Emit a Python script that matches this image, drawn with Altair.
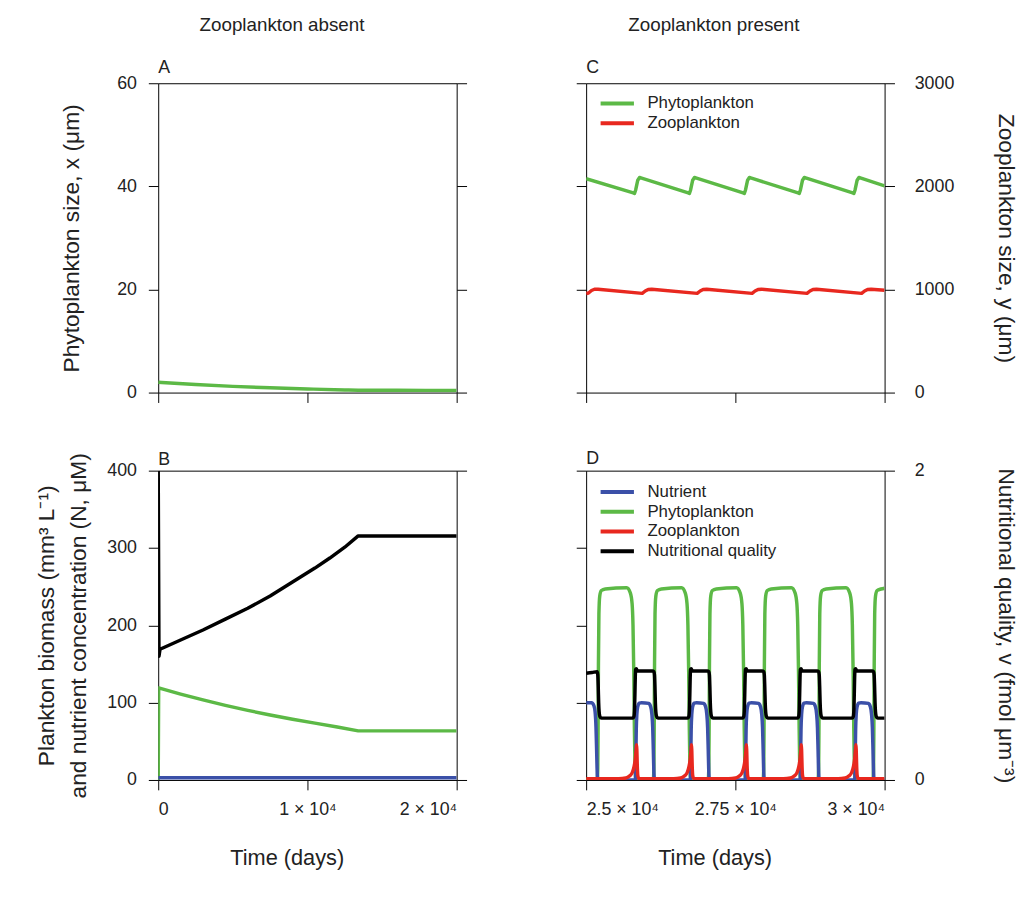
import altair as alt
import pandas as pd

FONT = "Liberation Sans"
TXT = "#222222"
GREEN = "#5cb946"
RED = "#e8281f"
BLUE = "#3b50a8"
BLACK = "#000000"
LW = 3.5

# ---------------- Panel A: phytoplankton size, zooplankton absent ----------------
a_t = [0, 2500, 5000, 7500, 10000, 12500, 13400, 16000, 20000]
a_phyto_size = [2.0, 1.55, 1.2, 0.92, 0.7, 0.52, 0.47, 0.44, 0.42]

# ---------------- Panel B: biomass / nutrient / quality, zooplankton absent -------
b_t_phyto = [0, 30, 1500, 3000, 4500, 6000, 7500, 9000, 10500, 12000, 13400, 20000]
b_phyto = [0, 119, 111, 103.5, 96.5, 90, 84, 78.5, 73.5, 68.5, 63.5, 63.5]
b_t_nut = [0, 20000]
b_nut = [3, 3]
b_t_qual = [0, 50, 120, 1500, 3000, 4500, 6000, 7500, 9000, 10500, 11500, 12500, 13400, 20000]
b_qual = [2.0, 0.80, 0.845, 0.905, 0.97, 1.04, 1.11, 1.19, 1.28, 1.37, 1.435, 1.505, 1.578, 1.578]

# ---------------- Panel C: sizes, zooplankton present ------------------------------
c_t_phyto = [25000, 25790, 25810, 25830, 25865, 25895, 25930,
             26710, 26730, 26750, 26785, 26815, 26850,
             27630, 27650, 27670, 27705, 27735, 27770,
             28550, 28570, 28590, 28625, 28655, 28690,
             29465, 29485, 29505, 29540, 29570, 29605, 30000]
c_phyto = [41.5, 38.72, 38.62, 39.3, 41.2, 41.72, 41.6,
           38.72, 38.62, 39.3, 41.2, 41.72, 41.6,
           38.72, 38.62, 39.3, 41.2, 41.72, 41.6,
           38.72, 38.62, 39.3, 41.2, 41.72, 41.6,
           38.72, 38.62, 39.3, 41.2, 41.72, 41.6, 40.1]
c_t_zoo = [25000, 25040, 25090, 25140, 25200,
           25940, 25990, 26040, 26100,
           26860, 26910, 26960, 27020,
           27780, 27830, 27880, 27940,
           28700, 28750, 28800, 28860,
           29615, 29665, 29715, 29775, 30000]
c_zoo = [960, 966, 990, 1002, 1003,
         962, 985, 1000, 1003,
         962, 985, 1000, 1003,
         962, 985, 1000, 1003,
         962, 985, 1000, 1003,
         962, 985, 1000, 1003, 993]

# ---------------- Panel D: biomass / nutrient / quality, zooplankton present -------
d_t_phyto = [25000, 25185, 25195, 25200, 25206, 25214, 25228, 25255, 25320,
             25680, 25740, 25770, 25785, 25798, 25808, 25818, 25830, 25850,
             26125, 26135, 26140, 26146, 26154, 26168, 26195, 26260,
             26600, 26660, 26690, 26705, 26718, 26728, 26738, 26750, 26770,
             27045, 27055, 27060, 27066, 27074, 27088, 27115, 27180,
             27520, 27580, 27610, 27625, 27638, 27648, 27658, 27670, 27690,
             27965, 27975, 27980, 27986, 27994, 28008, 28035, 28100,
             28440, 28500, 28530, 28545, 28558, 28568, 28578, 28590, 28610,
             28885, 28895, 28900, 28906, 28914, 28928, 28955, 29020,
             29355, 29415, 29445, 29460, 29473, 29483, 29493, 29505, 29525,
             29805, 29815, 29820, 29826, 29834, 29848, 29875, 29940, 30000]
d_phyto = [0, 0, 15, 60, 150, 215, 238, 245, 247,
           248.5, 242, 228, 200, 140, 70, 20, 3, 0,
           0, 15, 60, 150, 215, 238, 245, 247,
           248.5, 242, 228, 200, 140, 70, 20, 3, 0,
           0, 15, 60, 150, 215, 238, 245, 247,
           248.5, 242, 228, 200, 140, 70, 20, 3, 0,
           0, 15, 60, 150, 215, 238, 245, 247,
           248.5, 242, 228, 200, 140, 70, 20, 3, 0,
           0, 15, 60, 150, 215, 238, 245, 247,
           248.5, 242, 228, 200, 140, 70, 20, 3, 0,
           0, 15, 60, 150, 215, 238, 245, 247, 248]

d_t_nut = [25000, 25090, 25130, 25150, 25165, 25175, 25183, 25190, 25200,
           25825, 25833, 25840, 25850, 25865, 25890, 25930, 26050, 26080, 26100, 26115, 26125, 26133, 26140, 26150,
           26745, 26753, 26760, 26770, 26785, 26810, 26850, 26970, 27000, 27020, 27035, 27045, 27053, 27060, 27070,
           27665, 27673, 27680, 27690, 27705, 27730, 27770, 27890, 27920, 27940, 27955, 27965, 27973, 27980, 27990,
           28585, 28593, 28600, 28610, 28625, 28650, 28690, 28810, 28840, 28860, 28875, 28885, 28893, 28900, 28910,
           29500, 29508, 29515, 29525, 29540, 29565, 29605, 29730, 29760, 29780, 29795, 29805, 29813, 29820, 29830,
           30000]
d_nut = [100, 100, 96, 88, 68, 40, 15, 3, 0,
         0, 30, 65, 85, 95, 99.5, 100, 99, 95, 86, 68, 40, 15, 3, 0,
         0, 30, 65, 85, 95, 99.5, 100, 99, 95, 86, 68, 40, 15, 3, 0,
         0, 30, 65, 85, 95, 99.5, 100, 99, 95, 86, 68, 40, 15, 3, 0,
         0, 30, 65, 85, 95, 99.5, 100, 99, 95, 86, 68, 40, 15, 3, 0,
         0, 30, 65, 85, 95, 99.5, 100, 99, 95, 86, 68, 40, 15, 3, 0,
         0]

d_t_zoo = [25000,
           25545, 25665, 25725, 25775, 25805, 25825, 25837, 25845, 25850, 25857, 25865, 25880, 25905,
           26465, 26585, 26645, 26695, 26725, 26745, 26757, 26765, 26770, 26777, 26785, 26800, 26825,
           27385, 27505, 27565, 27615, 27645, 27665, 27677, 27685, 27690, 27697, 27705, 27720, 27745,
           28305, 28425, 28485, 28535, 28565, 28585, 28597, 28605, 28610, 28617, 28625, 28640, 28665,
           29220, 29340, 29400, 29450, 29480, 29500, 29512, 29520, 29525, 29532, 29540, 29555, 29580,
           30000]
d_zoo = [1.5,
         1.5, 2.5, 5, 10, 18, 28, 38, 45.5, 38, 18, 6, 2, 1.5,
         1.5, 2.5, 5, 10, 18, 28, 38, 45.5, 38, 18, 6, 2, 1.5,
         1.5, 2.5, 5, 10, 18, 28, 38, 45.5, 38, 18, 6, 2, 1.5,
         1.5, 2.5, 5, 10, 18, 28, 38, 45.5, 38, 18, 6, 2, 1.5,
         1.5, 2.5, 5, 10, 18, 28, 38, 45.5, 38, 18, 6, 2, 1.5,
         1.5]

d_t_qual = [25000, 25100, 25185, 25195, 25203, 25210, 25218, 25230, 25255,
            25780, 25800, 25810, 25817, 25823, 25830, 25840, 25860, 26110,
            26135, 26145, 26153, 26160, 26168, 26180, 26205,
            26700, 26720, 26730, 26737, 26743, 26750, 26760, 26780, 27030,
            27055, 27065, 27073, 27080, 27088, 27100, 27125,
            27620, 27640, 27650, 27657, 27663, 27670, 27680, 27700, 27950,
            27975, 27985, 27993, 28000, 28008, 28020, 28045,
            28540, 28560, 28570, 28577, 28583, 28590, 28600, 28620, 28870,
            28895, 28905, 28913, 28920, 28928, 28940, 28965,
            29455, 29475, 29485, 29492, 29498, 29505, 29515, 29535, 29790,
            29815, 29825, 29833, 29840, 29848, 29860, 29885, 30000]
d_qual = [0.69, 0.695, 0.70, 0.68, 0.60, 0.50, 0.44, 0.41, 0.40,
          0.40, 0.41, 0.45, 0.55, 0.66, 0.715, 0.72, 0.705, 0.705,
          0.70, 0.68, 0.60, 0.50, 0.44, 0.41, 0.40,
          0.40, 0.41, 0.45, 0.55, 0.66, 0.715, 0.72, 0.705, 0.705,
          0.70, 0.68, 0.60, 0.50, 0.44, 0.41, 0.40,
          0.40, 0.41, 0.45, 0.55, 0.66, 0.715, 0.72, 0.705, 0.705,
          0.70, 0.68, 0.60, 0.50, 0.44, 0.41, 0.40,
          0.40, 0.41, 0.45, 0.55, 0.66, 0.715, 0.72, 0.705, 0.705,
          0.70, 0.68, 0.60, 0.50, 0.44, 0.41, 0.40,
          0.40, 0.41, 0.45, 0.55, 0.66, 0.715, 0.72, 0.705, 0.705,
          0.70, 0.68, 0.60, 0.50, 0.44, 0.41, 0.40, 0.40]

# ---------------- axis tick values and labels ----------------
x_left_ticks = [0, 10000, 20000]
x_right_ticks = [25000, 27500, 30000]
size_ticks = [0, 20, 40, 60]
zoo_size_ticks = [0, 1000, 2000, 3000]
biomass_ticks = [0, 100, 200, 300, 400]
quality_ticks = [0, 1, 2]

W, H = 302, 313
X_LABEL_EXPR = "datum.value == 0 ? '0' : (datum.value / 10000) + ' × 10⁴'"

legend_c_names = ["Phytoplankton", "Zooplankton"]
legend_c_colors = [GREEN, RED]
legend_d_names = ["Nutrient", "Phytoplankton", "Zooplankton", "Nutritional quality"]
legend_d_colors = [BLUE, GREEN, RED, BLACK]


def frame(t, v, series):
    return pd.DataFrame({"t": t, "v": v, "series": series})


def xenc(domain, ticks, labels, title=None):
    ax = dict(values=ticks, orient="bottom", tickSize=10, labels=labels)
    if labels:
        ax.update(labelExpr=X_LABEL_EXPR, labelPadding=11)
    if title:
        ax.update(title=title, titlePadding=30, titleFontSize=22, titleX=130)
    else:
        ax.update(title=None)
    return alt.X("t:Q", scale=alt.Scale(domain=domain, nice=False, zero=False),
                 axis=alt.Axis(**ax))


def yleft(domain, ticks, labels, title=None, title_x=-76):
    ax = dict(values=ticks, orient="left", tickSize=10, labels=labels, labelPadding=12,
              format="d")
    if title is not None:
        ax.update(title=title, titleX=title_x)
    else:
        ax.update(title=None)
    return alt.Y("v:Q", scale=alt.Scale(domain=domain, nice=False), axis=alt.Axis(**ax))


def yright(domain, ticks, labels, title=None):
    ax = dict(values=ticks, orient="right", tickSize=10, labels=labels, labelPadding=20,
              format="d")
    if title is not None:
        ax.update(title=title, titleX=110, titleAngle=90)
    else:
        ax.update(title=None)
    return alt.Y("v:Q", scale=alt.Scale(domain=domain, nice=False), axis=alt.Axis(**ax))


def line(df, x, y, color_enc=None, color=None, interp="monotone"):
    enc = dict(x=x, y=y)
    if color_enc is not None:
        m = alt.Chart(df).mark_line(strokeWidth=LW, interpolate=interp, clip=True,
                                    strokeJoin="round")
        enc["color"] = color_enc
    else:
        m = alt.Chart(df).mark_line(strokeWidth=LW, interpolate=interp, clip=True,
                                    strokeJoin="round", color=color)
    return m.encode(**enc)


def panel_title(letter, offset=0):
    return alt.Title(letter, anchor="start", fontSize=18, font=FONT, fontWeight="normal",
                     color=TXT, offset=offset, frame="group")


def legend(names, colors, ly):
    return alt.Color("series:N",
                     scale=alt.Scale(domain=names, range=colors),
                     legend=alt.Legend(orient="none", legendX=23, legendY=ly, title=None,
                                       symbolType="M-2.7,0H2.7", symbolSize=156,
                                       symbolStrokeWidth=4, labelOffset=22,
                                       labelFontSize=17, labelFont=FONT, labelColor=TXT,
                                       rowPadding=2, padding=0, symbolFillColor="transparent"))


# ---- A ----
dfA = frame(a_t, a_phyto_size, "Phytoplankton")
xa = xenc([0, 20000], x_left_ticks, False)
A = alt.layer(
    line(dfA, xa, yleft([0, 60], size_ticks, True, "Phytoplankton size, x (μm)", -76),
         color=GREEN),
    alt.Chart(dfA).mark_line(opacity=0).encode(x=xa, y=yright([0, 3000], zoo_size_ticks, False)),
).resolve_scale(y="independent").properties(width=W, height=H, title=panel_title("A", -3))

# ---- B ----
xb = xenc([0, 20000], x_left_ticks, True, "Time (days)")
yb = yleft([0, 400], biomass_ticks, True,
           ["Plankton biomass (mm³ L⁻¹)", "and nutrient concentration (N, μM)"], -101)
B = alt.layer(
    alt.layer(
        line(frame(b_t_phyto, b_phyto, "Phytoplankton"), xb, yb, color=GREEN, interp="linear"),
        line(frame(b_t_nut, b_nut, "Nutrient"), xb, yb, color=BLUE, interp="linear"),
    ),
    line(frame(b_t_qual, b_qual, "Nutritional quality"), xb,
         yright([0, 2], quality_ticks, False), color=BLACK, interp="linear"),
).resolve_scale(y="independent").properties(width=W, height=H, title=panel_title("B", -17))

# ---- C ----
xc = xenc([25000, 30000], x_right_ticks, False)
colC = legend(legend_c_names, legend_c_colors, 12)
C = alt.layer(
    line(frame(c_t_phyto, c_phyto, "Phytoplankton"), xc,
         yleft([0, 60], size_ticks, False), color_enc=colC, interp="linear"),
    line(frame(c_t_zoo, c_zoo, "Zooplankton"), xc,
         yright([0, 3000], zoo_size_ticks, True, "Zooplankton size, y (μm)"),
         color_enc=colC, interp="linear"),
).resolve_scale(y="independent").properties(width=W, height=H, title=panel_title("C", -3))

# ---- D ----
xd = xenc([25000, 30000], x_right_ticks, True, "Time (days)")
yd = yleft([0, 400], biomass_ticks, False)
colD = legend(legend_d_names, legend_d_colors, 13)
D = alt.layer(
    alt.layer(
        line(frame(d_t_phyto, d_phyto, "Phytoplankton"), xd, yd, color_enc=colD),
        line(frame(d_t_nut, d_nut, "Nutrient"), xd, yd, color_enc=colD),
        line(frame(d_t_zoo, d_zoo, "Zooplankton"), xd, yd, color_enc=colD),
    ),
    line(frame(d_t_qual, d_qual, "Nutritional quality"), xd,
         yright([0, 2], quality_ticks, True, "Nutritional quality, v (fmol μm⁻³)"),
         color_enc=colD),
).resolve_scale(y="independent").properties(width=W, height=H, title=panel_title("D", -6))

col_title = dict(fontSize=19, font=FONT, fontWeight="normal", color=TXT, anchor="middle",
                 offset=24)
left_col = alt.vconcat(A, B, spacing=79, bounds="flush").properties(
    title=alt.Title("Zooplankton absent", dx=31, **col_title)).resolve_scale(color="independent")
right_col = alt.vconcat(C, D, spacing=79, bounds="flush").properties(
    title=alt.Title("Zooplankton present", dx=-83, **col_title)).resolve_scale(color="independent")

chart = alt.hconcat(left_col, right_col, spacing=109).resolve_scale(
    color="independent"
).properties(
    padding={"left": 27, "top": 3, "right": 2, "bottom": 0}, background="white"
).configure_view(stroke=BLACK, strokeWidth=1).configure_axis(
    grid=False, domain=False, tickColor=BLACK, tickWidth=1,
    labelFont=FONT, labelFontSize=18, labelColor=TXT,
    titleFont=FONT, titleFontSize=23, titleFontWeight="normal", titleColor=TXT,
    titleLineHeight=32,
)

chart.save("out.html", embed_options={"renderer": "svg", "actions": False})
